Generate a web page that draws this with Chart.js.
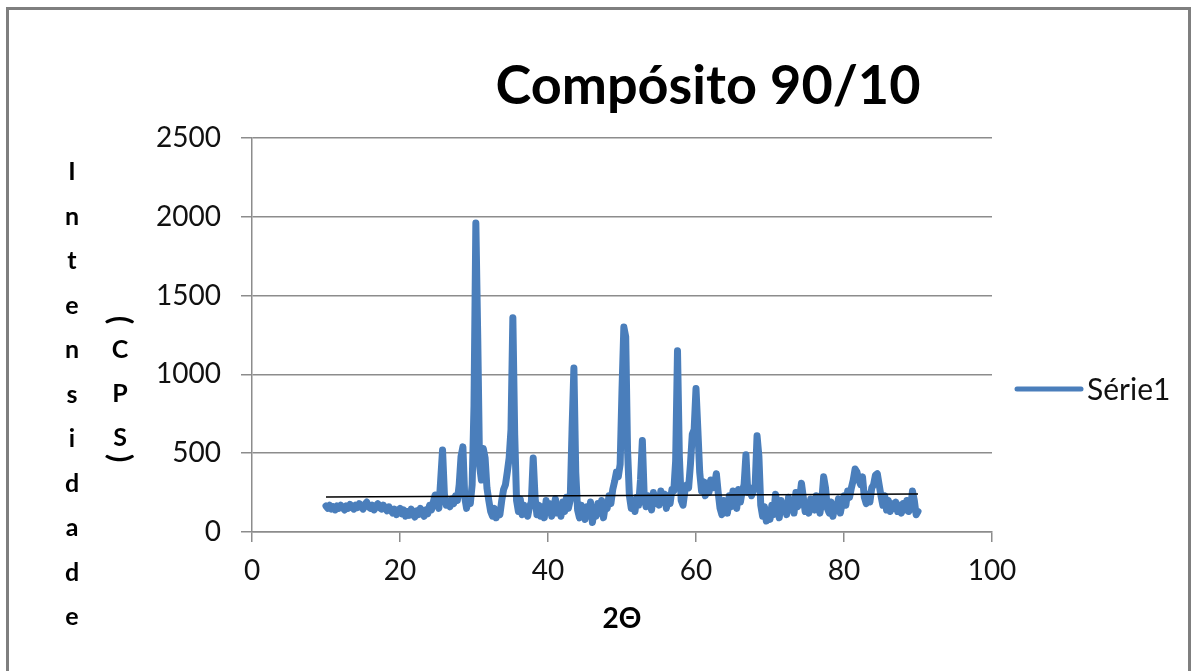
<!DOCTYPE html>
<html>
<head>
<meta charset="utf-8">
<script src="https://cdn.jsdelivr.net/npm/chart.js@4.4.1/dist/chart.umd.min.js"></script>
<style>
  html, body { margin: 0; padding: 0; background: #fff; }
  #wrap { width: 1195px; height: 671px; }
</style>
</head>
<body>
<div id="wrap"><canvas id="chart" width="1195" height="671"></canvas></div>
<script>
// Compósito 90/10 - difratograma (2Θ x intensidade)
const angles = [
  10,10.25,10.5,10.75,11,11.25,11.5,11.75,12,12.25,12.5,12.75,13,13.25,13.5,13.75,14,14.25,14.5,14.75,
  15,15.25,15.5,15.75,16,16.25,16.5,16.75,17,17.25,17.5,17.75,18,18.25,18.5,18.75,19,19.25,19.5,19.75,
  20,20.25,20.5,20.75,21,21.25,21.5,21.75,22,22.25,22.5,22.75,23,23.25,23.5,23.75,24,24.25,24.5,24.75,
  25,25.25,25.5,25.75,26,26.25,26.5,26.75,27,27.25,27.5,27.75,28,28.25,28.5,28.75,29,29.25,29.5,29.75,
  30,30.25,30.5,30.75,31,31.25,31.5,31.75,32,32.25,32.5,32.75,33,33.25,33.5,33.75,34,34.25,34.5,34.75,
  35,35.25,35.5,35.75,36,36.25,36.5,36.75,37,37.25,37.5,37.75,38,38.25,38.5,38.75,39,39.25,39.5,39.75,
  40,40.25,40.5,40.75,41,41.25,41.5,41.75,42,42.25,42.5,42.75,43,43.25,43.5,43.75,44,44.25,44.5,44.75,
  45,45.25,45.5,45.75,46,46.25,46.5,46.75,47,47.25,47.5,47.75,48,48.25,48.5,48.75,49,49.25,49.5,49.75,
  50,50.25,50.5,50.75,51,51.25,51.5,51.75,52,52.25,52.5,52.75,53,53.25,53.5,53.75,54,54.25,54.5,54.75,
  55,55.25,55.5,55.75,56,56.25,56.5,56.75,57,57.25,57.5,57.75,58,58.25,58.5,58.75,59,59.25,59.5,59.75,
  60,60.25,60.5,60.75,61,61.25,61.5,61.75,62,62.25,62.5,62.75,63,63.25,63.5,63.75,64,64.25,64.5,64.75,
  65,65.25,65.5,65.75,66,66.25,66.5,66.75,67,67.25,67.5,67.75,68,68.25,68.5,68.75,69,69.25,69.5,69.75,
  70,70.25,70.5,70.75,71,71.25,71.5,71.75,72,72.25,72.5,72.75,73,73.25,73.5,73.75,74,74.25,74.5,74.75,
  75,75.25,75.5,75.75,76,76.25,76.5,76.75,77,77.25,77.5,77.75,78,78.25,78.5,78.75,79,79.25,79.5,79.75,
  80,80.25,80.5,80.75,81,81.25,81.5,81.75,82,82.25,82.5,82.75,83,83.25,83.5,83.75,84,84.25,84.5,84.75,
  85,85.25,85.5,85.75,86,86.25,86.5,86.75,87,87.25,87.5,87.75,88,88.25,88.5,88.75,89,89.25,89.5,89.75,
  90
];
const counts = [
  165,150,170,145,160,140,165,150,170,155,140,165,150,175,160,145,170,155,180,160,
  145,175,190,160,150,170,140,165,180,155,145,170,150,135,160,140,120,145,110,135,
  150,115,140,100,130,105,145,115,95,135,110,150,120,100,140,115,170,140,190,235,
  180,150,330,520,240,170,190,160,210,180,230,200,300,480,540,220,150,230,180,300,
  800,1960,1250,420,330,530,470,280,200,130,100,150,90,130,110,200,270,300,380,470,
  650,1360,620,200,130,210,110,170,130,100,160,190,470,220,110,170,100,160,90,200,
  130,180,100,150,210,120,170,100,190,130,220,150,200,650,1040,380,140,90,170,120,
  80,160,110,190,60,140,100,180,120,200,90,170,150,230,180,270,320,380,350,430,
  900,1300,1240,520,230,150,200,130,220,170,330,580,230,160,230,180,140,250,180,220,
  170,260,200,240,150,230,180,270,260,450,1150,480,200,170,260,300,280,430,620,650,
  910,650,380,260,320,230,310,250,330,280,300,370,250,150,110,200,180,120,230,160,
  260,200,150,270,190,260,300,490,250,280,230,260,300,610,480,170,100,160,70,130,
  80,170,110,240,150,90,200,130,170,110,220,140,190,120,250,160,210,310,220,130,
  180,120,210,150,140,230,170,120,200,350,280,150,120,190,100,160,140,210,120,180,
  230,170,260,220,280,330,400,380,330,300,350,220,180,240,190,280,300,360,370,300,
  230,170,230,140,200,130,180,150,190,130,170,120,180,140,200,130,150,260,200,110,
  130
];
// linha de tendência (extremos)
const trendX = [10, 90];
const trendY = [222, 241];
const xTicks = [0, 20, 40, 60, 80, 100];
const yTicks = [0, 500, 1000, 1500, 2000, 2500];

const chartTitle = "Compósito 90/10";
const yTitle = "Intensidade";
const yUnit = "(CPS)";
const xTitle = "2Θ";
const seriesName = "Série1";

const BLUE = "#4a7ebb";
const GRID = "#8c8c8c";
const FONT = "Lato, 'Open Sans', sans-serif";

const scan = angles.map((a, i) => ({x: a, y: counts[i]}));
const trend = trendX.map((a, i) => ({x: a, y: trendY[i]}));

// fundo, moldura e textos desenhados à moda do Excel
const decor = {
  id: "decor",
  beforeDraw(chart){
    const c = chart.ctx;
    c.save();
    c.fillStyle = "#fff";
    c.fillRect(0, 0, chart.width, chart.height);
    c.strokeStyle = "#7f7f7f";
    c.lineWidth = 3;
    c.strokeRect(7.5, 8.5, 1182, 700);
    c.restore();
  },
  afterDraw(chart){
    const c = chart.ctx;
    const area = chart.chartArea;
    c.save();
    c.fillStyle = "#000";
    // título
    c.font = "bold 54px " + FONT;
    c.textAlign = "center";
    c.textBaseline = "alphabetic";
    c.fillText(chartTitle, 708, 104);
    // eixo y: letras empilhadas
    c.font = "bold 25px " + FONT;
    c.textBaseline = "middle";
    yTitle.split("").forEach((ch, i) => c.fillText(ch, 72, 172 + i * 44.5));
    const unitY = [320, 350, 394, 438, 458];
    yUnit.split("").forEach((ch, i) => {
      if(ch === "(" || ch === ")"){
        c.save();
        c.font = "bold 30px " + FONT;
        c.translate(120, unitY[i]);
        c.rotate(Math.PI / 2);
        c.fillText(ch, 0, 0);
        c.restore();
      } else {
        c.fillText(ch, 120, unitY[i]);
      }
    });
    // eixo x
    c.font = "bold 28px " + FONT;
    c.fillText(xTitle, (area.left + area.right) / 2, 619);
    // legenda
    c.strokeStyle = BLUE;
    c.lineWidth = 5;
    c.lineCap = "round";
    c.beginPath();
    c.moveTo(1017, 389);
    c.lineTo(1081, 389);
    c.stroke();
    c.font = "30px " + FONT;
    c.textAlign = "left";
    c.fillStyle = "#111";
    c.fillText(seriesName, 1087, 390);
    c.restore();
  }
};

new Chart(document.getElementById("chart"), {
  type: "line",
  data: {
    datasets: [
      {label: "Tendência", data: trend, borderColor: "#000", borderWidth: 1.6,
       pointRadius: 0, order: 0},
      {label: seriesName, data: scan, borderColor: BLUE, backgroundColor: BLUE,
       borderWidth: 7, pointRadius: 0, tension: 0, borderJoinStyle: "round",
       borderCapStyle: "round", order: 1}
    ]
  },
  options: {
    responsive: false,
    animation: false,
    events: [],
    layout: {padding: {left: 0, right: 203, top: 138, bottom: 0}},
    plugins: {legend: {display: false}, title: {display: false}, tooltip: {enabled: false}},
    scales: {
      x: {
        type: "linear", min: 0, max: 100,
        afterBuildTicks(s){ s.ticks = xTicks.map(v => ({value: v})); },
        afterFit(s){ s.height = 139; },
        grid: {drawOnChartArea: false, drawTicks: true, tickLength: 10, color: GRID, lineWidth: 1.5},
        border: {display: true, color: GRID, width: 1.5},
        ticks: {font: {family: FONT, size: 28}, color: "#111", padding: 12, maxRotation: 0,
                callback: v => String(v)}
      },
      y: {
        min: 0, max: 2500,
        afterBuildTicks(s){ s.ticks = yTicks.map(v => ({value: v})); },
        afterFit(s){ s.width = 252; },
        grid: {color: GRID, lineWidth: 1.5, drawTicks: true, tickLength: 11},
        border: {display: true, color: GRID, width: 1.5},
        ticks: {font: {family: FONT, size: 28}, color: "#111", padding: 20,
                callback: v => String(v)}
      }
    }
  },
  plugins: [decor]
});
</script>
</body>
</html>
